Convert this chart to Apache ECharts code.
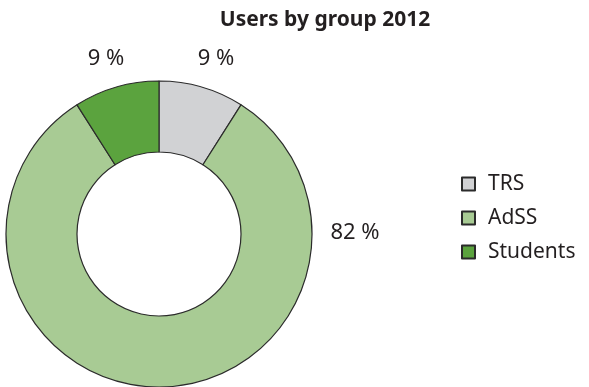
<!DOCTYPE html>
<html>
<head>
<meta charset="utf-8">
<script src="https://cdn.jsdelivr.net/npm/echarts@6/dist/echarts.min.js"></script>
<style>
  html, body { margin: 0; padding: 0; background: #fff; }
  #chart { width: 589px; height: 387px; }
</style>
</head>
<body>
<div id="chart"></div>
<script>
// Share of users per group, 2012
const groups = ['TRS', 'AdSS', 'Students'];
const shares = [9, 82, 9];
const colors = ['#d1d2d4', '#a8cb94', '#5ba33e'];

const chart = echarts.init(document.getElementById('chart'));
const font = '"Noto Sans", "Open Sans", sans-serif';

// fixed label anchors (pixel positions of the percentage texts)
const labelSpots = [
  { x: 216, y: 59 },
  { x: 355, y: 233 },
  { x: 106, y: 59 }
];

chart.setOption({
  animation: false,
  title: {
    text: 'Users by group 2012',
    left: 320,
    textAlign: 'center',
    top: 5,
    textStyle: { fontFamily: font, fontSize: 21, fontWeight: 'bold', color: '#231f20' }
  },
  legend: {
    orient: 'vertical',
    left: 456,
    top: 168,
    itemWidth: 13,
    itemHeight: 13,
    itemGap: 12,
    icon: 'rect',
    textStyle: { fontFamily: font, fontSize: 21, lineHeight: 22, color: '#231f20', padding: [0, 0, 0, 8] },
    data: groups
  },
  series: [{
    type: 'pie',
    center: [159, 234],
    radius: [82, 153],
    startAngle: 90,
    clockwise: true,
    silent: true,
    itemStyle: { borderColor: '#2b2b2b', borderWidth: 1.2 },
    label: {
      show: true,
      position: 'outside',
      formatter: '{c} %',
      fontFamily: font,
      fontSize: 22,
      color: '#231f20'
    },
    labelLine: { show: false },
    labelLayout: function (p) {
      const s = labelSpots[p.dataIndex];
      return { x: s.x, y: s.y, align: 'center', verticalAlign: 'middle' };
    },
    data: groups.map((g, i) => ({ name: g, value: shares[i], itemStyle: { color: colors[i] } }))
  }]
});
</script>
</body>
</html>
